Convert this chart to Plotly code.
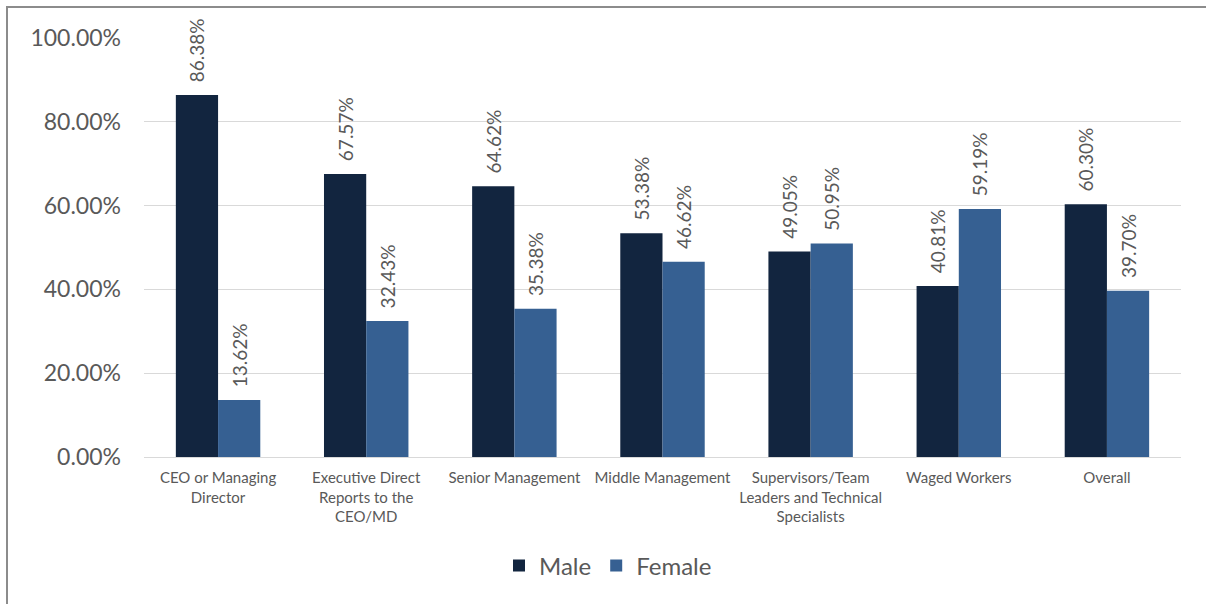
import plotly.graph_objects as go

categories = [
    "CEO or Managing<br>Director",
    "Executive Direct<br>Reports to the<br>CEO/MD",
    "Senior Management",
    "Middle Management",
    "Supervisors/Team<br>Leaders and Technical<br>Specialists",
    "Waged Workers",
    "Overall",
]
male = [0.8638, 0.6757, 0.6462, 0.5338, 0.4905, 0.4081, 0.6030]
female = [0.1362, 0.3243, 0.3538, 0.4662, 0.5095, 0.5919, 0.3970]

MALE_COLOR = "#12253F"
FEMALE_COLOR = "#366092"
FONT = "Lato, 'Open Sans', sans-serif"
PAD = "\u00a0\u00a0"  # small gap between bar top and its rotated label

fig = go.Figure()
for name, vals, color in [("Male", male, MALE_COLOR), ("Female", female, FEMALE_COLOR)]:
    fig.add_trace(go.Bar(
        name=name,
        x=categories,
        y=vals,
        marker=dict(color=color, line=dict(width=0)),
        texttemplate=PAD + "%{y:.2%}",
        textposition="outside",
        textangle=-90,
        constraintext="none",
        textfont=dict(size=19, color="#595959", family=FONT),
        cliponaxis=False,
    ))

W, H = 1206, 604
L, R, T, B = 144, 25, 38, 147
pw, ph = W - L - R, H - T - B


def px_to_paper_x(px):
    return (px - L) / pw


def px_to_paper_y(py):
    return (H - B - py) / ph


fig.update_layout(
    width=W,
    height=H,
    margin=dict(l=L, r=R, t=T, b=B),
    paper_bgcolor="white",
    plot_bgcolor="white",
    barmode="group",
    bargap=0.43,
    bargroupgap=0,
    font=dict(family=FONT, color="#595959"),
    showlegend=True,
    legend=dict(
        orientation="h",
        x=px_to_paper_x(608),
        xanchor="center",
        y=px_to_paper_y(566),
        yanchor="middle",
        font=dict(size=24, color="#595959", family=FONT),
        itemsizing="constant",
        traceorder="normal",
    ),
    shapes=[
        dict(
            type="rect",
            xref="paper", yref="paper",
            x0=px_to_paper_x(7), x1=px_to_paper_x(1230),
            y0=px_to_paper_y(640), y1=px_to_paper_y(7),
            line=dict(color="#8C8C8C", width=2),
            fillcolor="rgba(0,0,0,0)",
            layer="below",
        )
    ],
)

fig.update_xaxes(
    showline=True,
    linecolor="#D9D9D9",
    linewidth=1,
    ticks="",
    tickfont=dict(size=15, color="#595959", family=FONT),
    tickangle=0,
    ticklabelstandoff=7,
)
fig.update_yaxes(
    range=[0, 1.0],
    tickvals=[0, 0.2, 0.4, 0.6, 0.8, 1.0],
    tickformat=".2%",
    showgrid=True,
    gridcolor="#D9D9D9",
    gridwidth=1,
    zeroline=False,
    showline=False,
    tickfont=dict(size=23, color="#595959", family=FONT),
    ticklabelstandoff=22,
)

fig.write_html("out.html")
